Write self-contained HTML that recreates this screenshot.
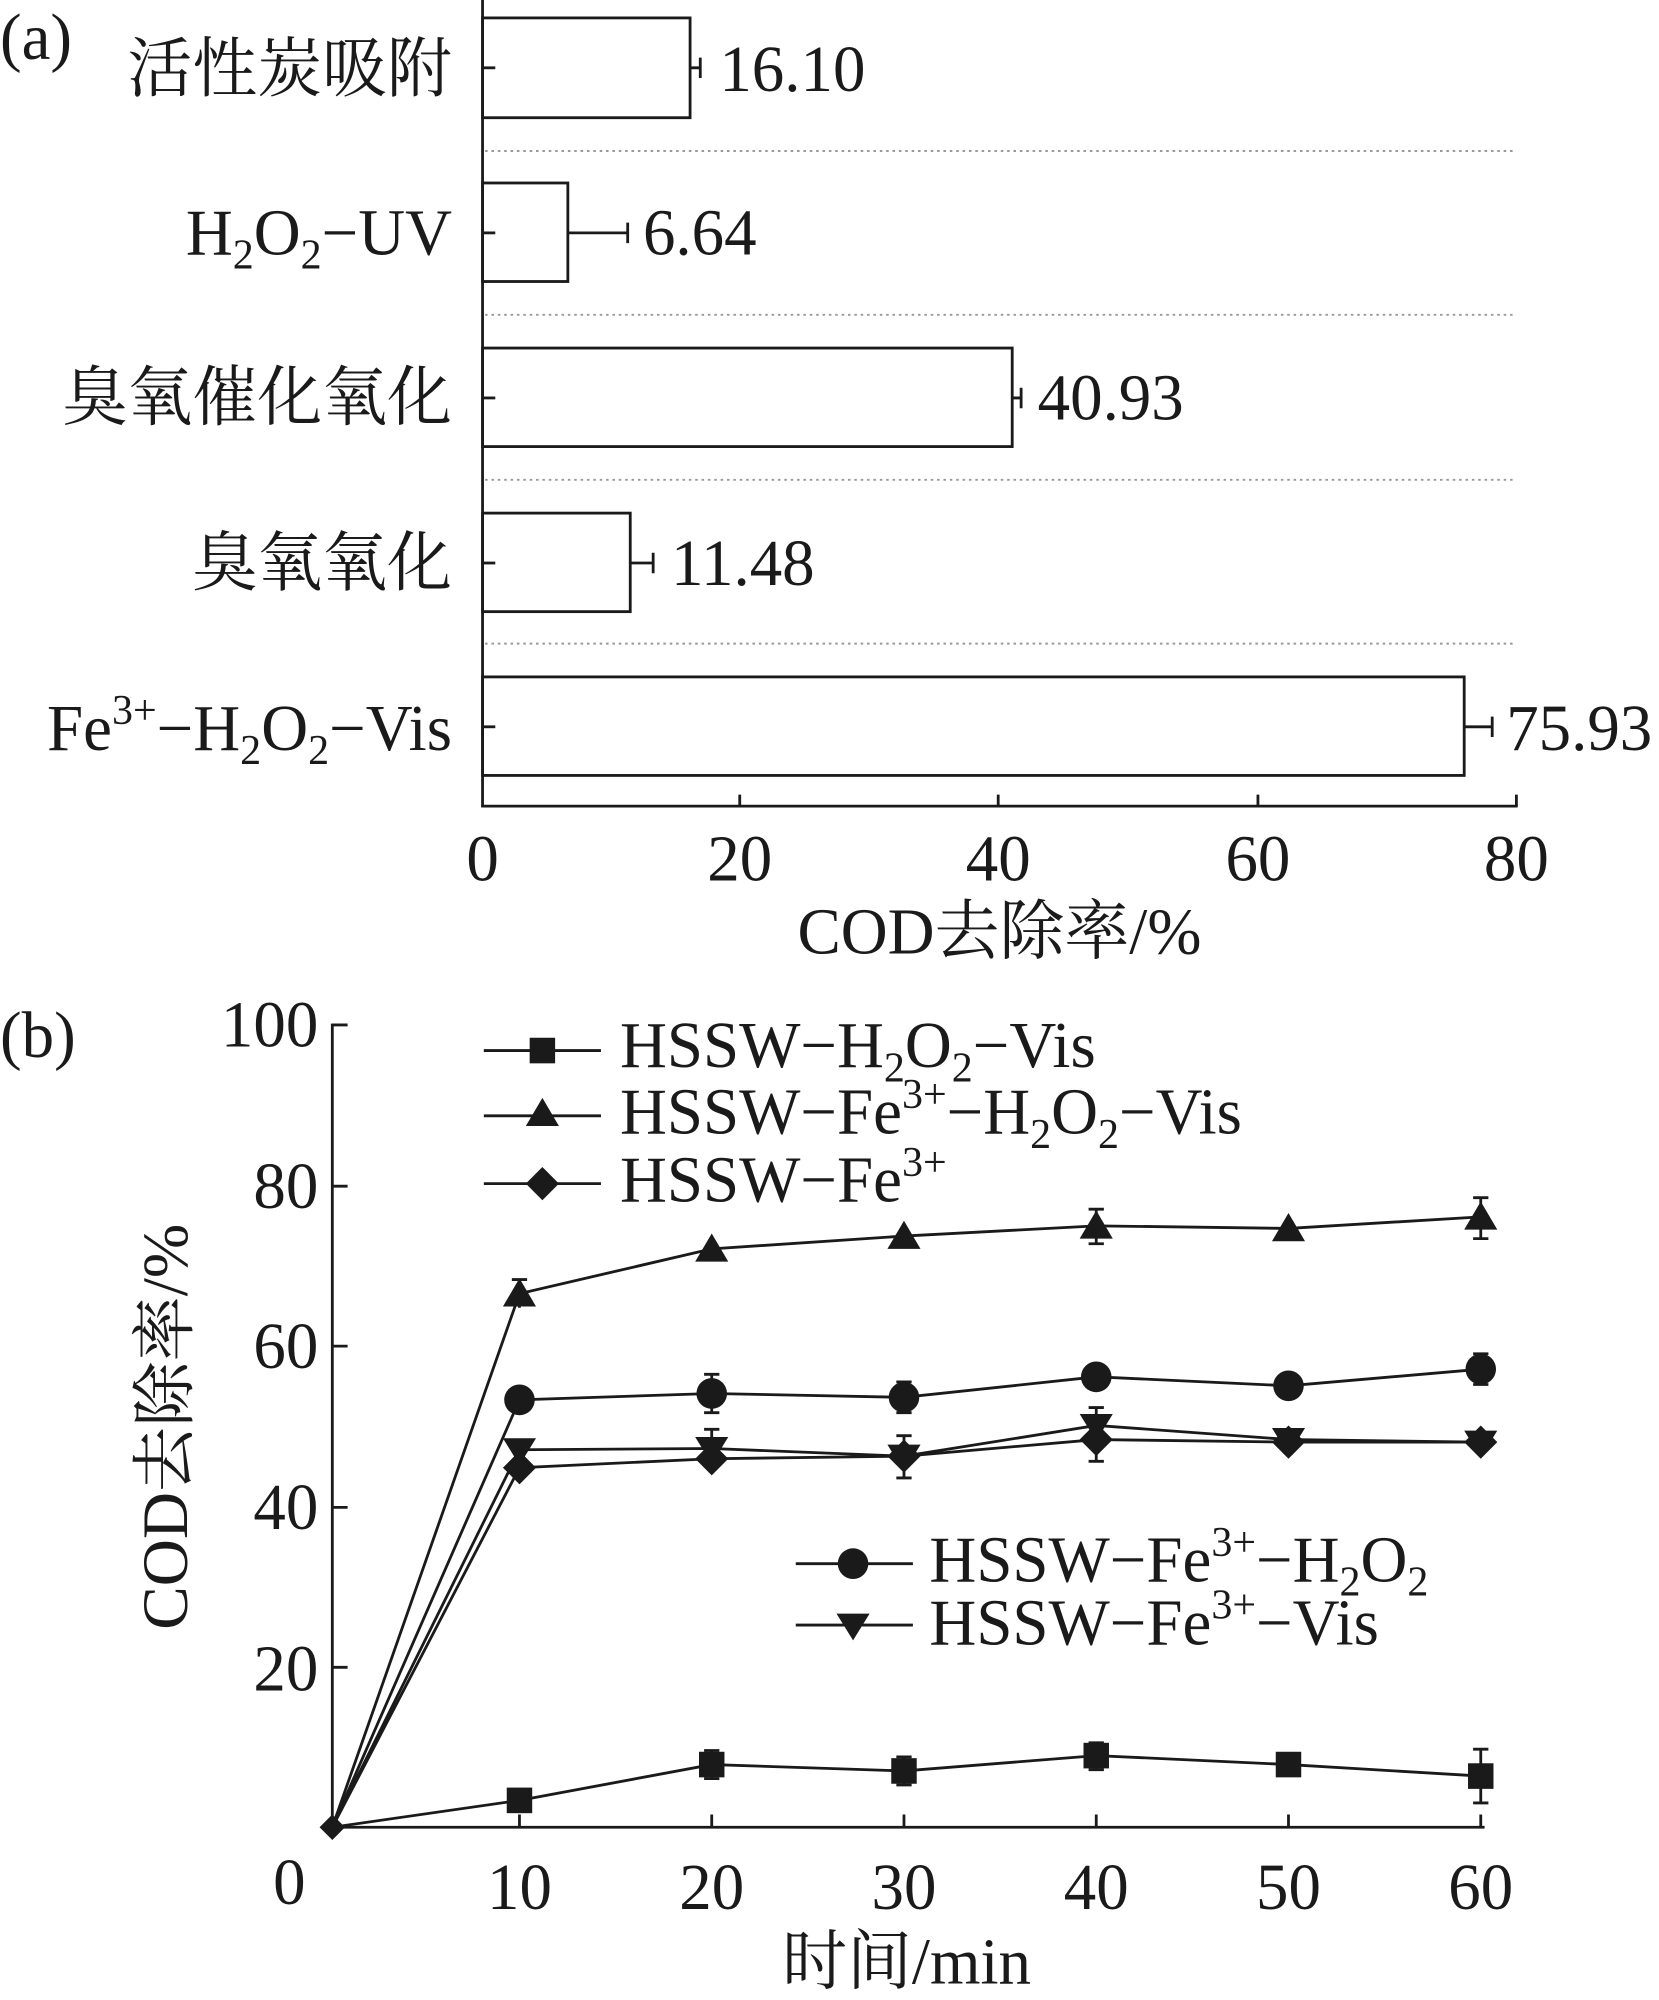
<!DOCTYPE html>
<html><head><meta charset="utf-8"><style>html,body{margin:0;padding:0;background:#fff}svg{display:block}</style></head>
<body>
<svg width="1659" height="2000" viewBox="0 0 1303 1563" preserveAspectRatio="none" xmlns="http://www.w3.org/2000/svg" font-family="'Liberation Serif','Noto Serif CJK SC',serif" fill="#1a1a1a">
<g stroke="#1a1a1a" stroke-width="2.2" fill="none">
<line x1="379" y1="0" x2="379" y2="631"/>
<line x1="378" y1="630" x2="1192" y2="630"/>
<line x1="581" y1="630" x2="581" y2="621"/>
<line x1="784" y1="630" x2="784" y2="621"/>
<line x1="988" y1="630" x2="988" y2="621"/>
<line x1="1191" y1="630" x2="1191" y2="621"/>
<rect x="379" y="14" width="163" height="78"/>
<rect x="379" y="143" width="67" height="77"/>
<rect x="379" y="272" width="416" height="77"/>
<rect x="379" y="401" width="116" height="77"/>
<rect x="379" y="529" width="771" height="77"/>
<line x1="379" y1="53" x2="389" y2="53"/><line x1="379" y1="182" x2="389" y2="182"/><line x1="379" y1="311" x2="389" y2="311"/><line x1="379" y1="440" x2="389" y2="440"/><line x1="379" y1="568" x2="389" y2="568"/>
<path d="M542 53H550M550 45V61"/>
<path d="M446 182H493M493 174V190"/>
<path d="M795 311H802M802 303V319"/>
<path d="M495 440H513M513 432V448"/>
<path d="M1150 568H1172M1172 560V576"/>
</g>
<g stroke="#999" stroke-width="1.5" stroke-dasharray="2,3">
<line x1="381" y1="118" x2="1188" y2="118"/><line x1="381" y1="246" x2="1188" y2="246"/><line x1="381" y1="375" x2="1188" y2="375"/><line x1="381" y1="503" x2="1188" y2="503"/>
</g>
<g font-size="51">
<text x="0" y="46">(a)</text>
<text x="355" y="71" text-anchor="end">活性炭吸附</text>
<text x="355" y="199" text-anchor="end">H<tspan font-size="33" dy="11">2</tspan><tspan dy="-11">O</tspan><tspan font-size="33" dy="11">2</tspan><tspan dy="-11">−UV</tspan></text>
<text x="355" y="328" text-anchor="end">臭氧催化氧化</text>
<text x="355" y="457" text-anchor="end">臭氧氧化</text>
<text x="355" y="586" text-anchor="end">Fe<tspan font-size="33" dy="-20">3+</tspan><tspan dy="20">−H</tspan><tspan font-size="33" dy="11">2</tspan><tspan dy="-11">O</tspan><tspan font-size="33" dy="11">2</tspan><tspan dy="-11">−Vis</tspan></text>
<text x="565" y="71">16.10</text>
<text x="505" y="199">6.64</text>
<text x="815" y="328">40.93</text>
<text x="527" y="457">11.48</text>
<text x="1183" y="586">75.93</text>
<text x="379" y="688" text-anchor="middle">0</text>
<text x="581" y="688" text-anchor="middle">20</text>
<text x="784" y="688" text-anchor="middle">40</text>
<text x="988" y="688" text-anchor="middle">60</text>
<text x="1191" y="688" text-anchor="middle">80</text>
<text x="785" y="745" text-anchor="middle">COD去除率/%</text>
<text x="0" y="826">(b)</text>
<text x="250" y="818" text-anchor="end">100</text>
<text x="250" y="944" text-anchor="end">80</text>
<text x="250" y="1069" text-anchor="end">60</text>
<text x="250" y="1195" text-anchor="end">40</text>
<text x="250" y="1321" text-anchor="end">20</text>
<text x="240" y="1488" text-anchor="end">0</text>
<text x="408" y="1492" text-anchor="middle">10</text>
<text x="559" y="1492" text-anchor="middle">20</text>
<text x="710" y="1492" text-anchor="middle">30</text>
<text x="861" y="1492" text-anchor="middle">40</text>
<text x="1012" y="1492" text-anchor="middle">50</text>
<text x="1163" y="1492" text-anchor="middle">60</text>
<text x="712" y="1550" text-anchor="middle">时间/min</text>
<text transform="translate(147,1115) rotate(-90)" text-anchor="middle">COD去除率/%</text>
<text x="487" y="834">HSSW−H<tspan font-size="33" dy="11">2</tspan><tspan dy="-11">O</tspan><tspan font-size="33" dy="11">2</tspan><tspan dy="-11">−Vis</tspan></text>
<text x="487" y="886">HSSW−Fe<tspan font-size="33" dy="-20">3+</tspan><tspan dy="20">−H</tspan><tspan font-size="33" dy="11">2</tspan><tspan dy="-11">O</tspan><tspan font-size="33" dy="11">2</tspan><tspan dy="-11">−Vis</tspan></text>
<text x="487" y="939">HSSW−Fe<tspan font-size="33" dy="-20">3+</tspan></text>
<text x="730" y="1236">HSSW−Fe<tspan font-size="33" dy="-20">3+</tspan><tspan dy="20">−H</tspan><tspan font-size="33" dy="11">2</tspan><tspan dy="-11">O</tspan><tspan font-size="33" dy="11">2</tspan></text>
<text x="730" y="1285">HSSW−Fe<tspan font-size="33" dy="-20">3+</tspan><tspan dy="20">−Vis</tspan></text>
</g>
<g stroke="#1a1a1a" stroke-width="2.2" fill="none">
<line x1="261" y1="800" x2="261" y2="1429"/>
<line x1="260" y1="1428" x2="1166" y2="1428"/>
<path d="M261 801H273M261 927H273M261 1052H273M261 1178H273M261 1303H273"/>
<path d="M408 1428V1418M559 1428V1418M710 1428V1418M861 1428V1418M1012 1428V1418M1163 1428V1418"/>
<polyline points="261,1428 408,1011 559,976 710,966 861,958 1012,960 1163,951"/>
<polyline points="261,1428 408,1094 559,1089 710,1092 861,1076 1012,1083 1163,1070"/>
<polyline points="261,1428 408,1133 559,1132 710,1138 861,1114 1012,1125 1163,1127"/>
<polyline points="261,1428 408,1147 559,1140 710,1138 861,1125 1012,1127 1163,1127"/>
<polyline points="261,1428 408,1407 559,1379 710,1384 861,1372 1012,1379 1163,1388"/>
<path d="M408 1000V1022M402 1000H414M861 945V972M855 945H867M855 972H867M1163 936V968M1157 936H1169M1157 968H1169"/>
<path d="M559 1074V1104M553 1074H565M553 1104H565M710 1080V1104M704 1080H716M704 1104H716M1163 1058V1082M1157 1058H1169M1157 1082H1169"/>
<path d="M559 1117V1147M553 1117H565M710 1122V1155M704 1122H716M704 1155H716M861 1100V1142M855 1100H867M855 1142H867"/>
<path d="M559 1368V1390M553 1368H565M553 1390H565M710 1373V1395M704 1373H716M704 1395H716M861 1362V1383M855 1362H867M855 1383H867M1163 1367V1409M1157 1367H1169M1157 1409H1169"/>
<path d="M380 821H472M380 872H472M380 925H472M625 1222H717M625 1270H717"/>
</g>
<g fill="#1a1a1a">
<path d="M408 999l-13 22h26z"/><path d="M559 964l-13 22h26z"/><path d="M710 954l-13 22h26z"/><path d="M861 946l-13 22h26z"/><path d="M1012 948l-13 22h26z"/><path d="M1163 939l-13 22h26z"/><path d="M426 858l-13 22h26z"/>
<circle cx="408" cy="1094" r="12"/><circle cx="559" cy="1089" r="12"/><circle cx="710" cy="1092" r="12"/><circle cx="861" cy="1076" r="12"/><circle cx="1012" cy="1083" r="12"/><circle cx="1163" cy="1070" r="12"/><circle cx="670" cy="1222" r="12"/>
<path d="M408 1145l-13 -21h26z"/><path d="M559 1144l-13 -21h26z"/><path d="M710 1150l-13 -21h26z"/><path d="M861 1126l-13 -21h26z"/><path d="M1012 1137l-13 -21h26z"/><path d="M1163 1139l-13 -21h26z"/><path d="M670 1282l-13 -21h26z"/>
<path d="M408 1134l13 13-13 13-13-13z"/><path d="M559 1127l13 13-13 13-13-13z"/><path d="M710 1125l13 13-13 13-13-13z"/><path d="M861 1112l13 13-13 13-13-13z"/><path d="M1012 1114l13 13-13 13-13-13z"/><path d="M1163 1114l13 13-13 13-13-13z"/><path d="M426 912l13 13-13 13-13-13z"/>
<rect x="398" y="1397" width="20" height="20"/><rect x="549" y="1369" width="20" height="20"/><rect x="700" y="1374" width="20" height="20"/><rect x="851" y="1362" width="20" height="20"/><rect x="1002" y="1369" width="20" height="20"/><rect x="1153" y="1378" width="20" height="20"/><rect x="416" y="811" width="20" height="20"/>
<path d="M261 1418l10 10-10 10-10-10z"/>
</g>
</svg>
</body></html>
